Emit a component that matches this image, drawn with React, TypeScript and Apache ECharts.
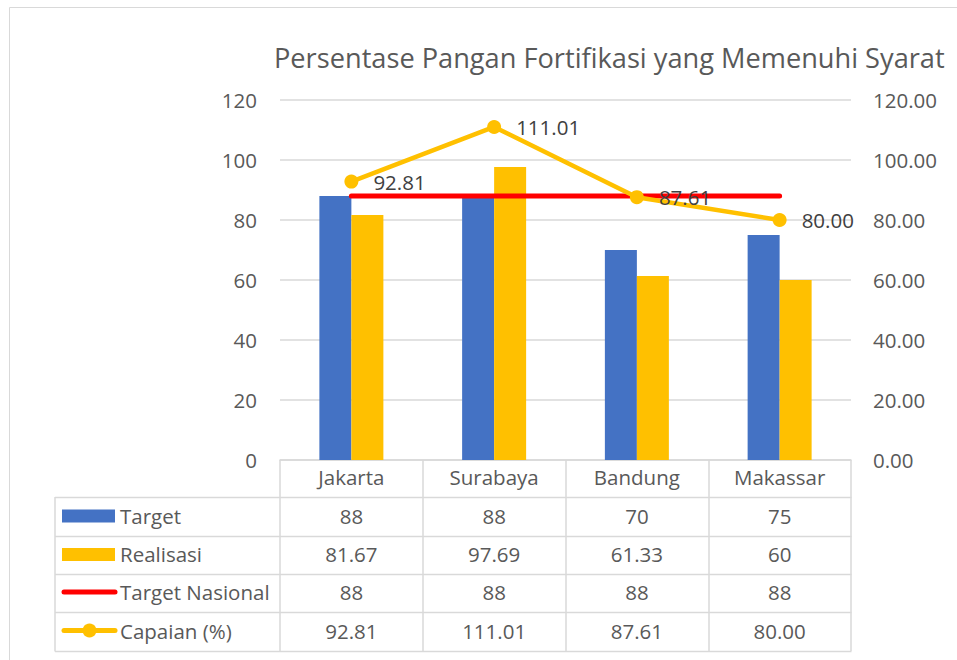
import React, { useEffect, useRef } from "react";
import * as echarts from "echarts";

const titleText = "Persentase Pangan Fortifikasi yang Memenuhi Syarat";
const categories = ["Jakarta", "Surabaya", "Bandung", "Makassar"];
const seriesNames = ["Target", "Realisasi", "Target Nasional", "Capaian (%)"];
const targetValues = [88, 88, 70, 75];
const realisasiValues = [81.67, 97.69, 61.33, 60];
const targetNasionalValues = [88, 88, 88, 88];
const capaianValues = [92.81, 111.01, 87.61, 80.0];
const axisMin = 0;
const axisMax = 120;
const axisInterval = 20;

const FONT = "'Open Sans', sans-serif";
const TEXT = "#595959";
const GRID_LINE = "#D9D9D9";
const BLUE = "#4472C4";
const GOLD = "#FFC000";
const RED = "#FF0000";

// layout
const W = 957;
const H = 660;
const PLOT_L = 280;
const PLOT_R = 851;
const PLOT_T = 100;
const PLOT_B = 460;
const TABLE_L = 55;
const ROW_Y = [497, 536, 574, 612, 651];

export default function App() {
  const ref = useRef<HTMLDivElement>(null);

  useEffect(() => {
    if (!ref.current) return;
    const chart = echarts.init(ref.current, null, { renderer: "svg" });

    const colW = (PLOT_R - PLOT_L) / categories.length;
    const tableRows = [
      targetValues.map((v) => String(v)),
      realisasiValues.map((v) => String(v)),
      targetNasionalValues.map((v) => String(v)),
      capaianValues.map((v) => v.toFixed(2)),
    ];

    const graphics: any[] = [];
    // outer border
    graphics.push({
      type: "rect",
      shape: { x: 9.5, y: 7.5, width: 1000, height: 700 },
      style: { fill: "none", stroke: GRID_LINE, lineWidth: 1 },
      silent: true,
    });
    // horizontal table lines
    ROW_Y.forEach((y) => {
      graphics.push({
        type: "line",
        shape: { x1: TABLE_L, y1: y + 0.5, x2: PLOT_R + 0.5, y2: y + 0.5 },
        style: { stroke: GRID_LINE, lineWidth: 1.5 },
        silent: true,
      });
    });
    graphics.push({
      type: "line",
      shape: { x1: TABLE_L, y1: ROW_Y[0], x2: TABLE_L, y2: ROW_Y[ROW_Y.length - 1] + 0.5 },
      style: { stroke: GRID_LINE, lineWidth: 1.5 },
      silent: true,
    });
    // legend keys and labels
    const keyX = 62;
    const keyW = 53;
    for (let r = 0; r < 4; r++) {
      const cy = (ROW_Y[r] + ROW_Y[r + 1]) / 2 - 1;
      if (r === 0 || r === 1) {
        graphics.push({
          type: "rect",
          shape: { x: keyX, y: cy - 6, width: keyW, height: 13 },
          style: { fill: r === 0 ? BLUE : GOLD },
          silent: true,
        });
      } else if (r === 2) {
        graphics.push({
          type: "line",
          shape: { x1: keyX + 2, y1: cy, x2: keyX + keyW, y2: cy },
          style: { stroke: RED, lineWidth: 5, lineCap: "round" },
          silent: true,
        });
      } else {
        graphics.push({
          type: "line",
          shape: { x1: keyX + 2, y1: cy, x2: keyX + keyW, y2: cy },
          style: { stroke: GOLD, lineWidth: 5, lineCap: "round" },
          silent: true,
        });
        graphics.push({
          type: "circle",
          shape: { cx: keyX + keyW / 2 + 1, cy, r: 7 },
          style: { fill: GOLD },
          silent: true,
        });
      }
      graphics.push({
        type: "text",
        x: 120,
        y: cy,
        style: {
          text: seriesNames[r],
          fontFamily: FONT,
          fontSize: 20.5,
          fill: TEXT,
          textAlign: "left",
          textVerticalAlign: "middle",
        },
        silent: true,
      });
      for (let c = 0; c < categories.length; c++) {
        graphics.push({
          type: "text",
          x: PLOT_L + (c + 0.5) * colW,
          y: cy,
          style: {
            text: tableRows[r][c],
            fontFamily: FONT,
            fontSize: 20.5,
            fill: TEXT,
            textAlign: "center",
            textVerticalAlign: "middle",
          },
          silent: true,
        });
      }
    }

    const option: any = {
      animation: false,
      backgroundColor: "#ffffff",
      textStyle: { fontFamily: FONT },
      title: {
        text: titleText,
        left: 269,
        top: 39,
        textStyle: { fontFamily: FONT, fontSize: 27.2, fontWeight: "normal", color: TEXT },
      },
      grid: {
        left: PLOT_L,
        right: W - PLOT_R,
        top: PLOT_T,
        bottom: H - PLOT_B,
        containLabel: false,
      },
      xAxis: {
        type: "category",
        data: categories,
        boundaryGap: true,
        axisLine: { show: true, lineStyle: { color: GRID_LINE, width: 1.5 } },
        axisTick: {
          show: true,
          interval: 0,
          length: ROW_Y[ROW_Y.length - 1] - PLOT_B,
          lineStyle: { color: GRID_LINE, width: 1.5 },
        },
        axisLabel: {
          interval: 0,
          margin: 6,
          fontFamily: FONT,
          fontSize: 20.5,
          lineHeight: 22,
          color: TEXT,
        },
      },
      yAxis: [
        {
          type: "value",
          min: axisMin,
          max: axisMax,
          interval: axisInterval,
          axisLine: { show: false },
          axisTick: { show: false },
          splitLine: { show: true, lineStyle: { color: GRID_LINE, width: 1.5 } },
          axisLabel: { margin: 23, fontFamily: FONT, fontSize: 20.5, color: TEXT },
        },
        {
          type: "value",
          min: axisMin,
          max: axisMax,
          interval: axisInterval,
          position: "right",
          axisLine: { show: false },
          axisTick: { show: false },
          splitLine: { show: false },
          axisLabel: {
            margin: 22,
            fontFamily: FONT,
            fontSize: 20.5,
            color: TEXT,
            formatter: (v: number) => v.toFixed(2),
          },
        },
      ],
      series: [
        {
          name: seriesNames[0],
          type: "bar",
          data: targetValues,
          barWidth: 32,
          barGap: "0%",
          itemStyle: { color: BLUE },
          z: 2,
        },
        {
          name: seriesNames[1],
          type: "bar",
          data: realisasiValues,
          barWidth: 32,
          barGap: "0%",
          itemStyle: { color: GOLD },
          z: 2,
        },
        {
          name: seriesNames[2],
          type: "line",
          data: targetNasionalValues,
          yAxisIndex: 0,
          symbol: "none",
          lineStyle: { color: RED, width: 5, cap: "round" },
          itemStyle: { color: RED },
          z: 3,
        },
        {
          name: seriesNames[3],
          type: "line",
          data: capaianValues,
          yAxisIndex: 1,
          symbol: "circle",
          symbolSize: 14,
          lineStyle: { color: GOLD, width: 4.5 },
          itemStyle: { color: GOLD },
          z: 4,
          label: {
            show: true,
            position: "right",
            distance: 15,
            fontFamily: FONT,
            fontSize: 20.5,
            color: "#404040",
            formatter: (p: any) => Number(p.value).toFixed(2),
          },
        },
      ],
      graphic: graphics,
    };

    chart.setOption(option);
    return () => chart.dispose();
  }, []);

  return (
    <div
      ref={ref}
      style={{ position: "fixed", left: 0, top: 0, width: W, height: H, background: "#fff" }}
    />
  );
}
